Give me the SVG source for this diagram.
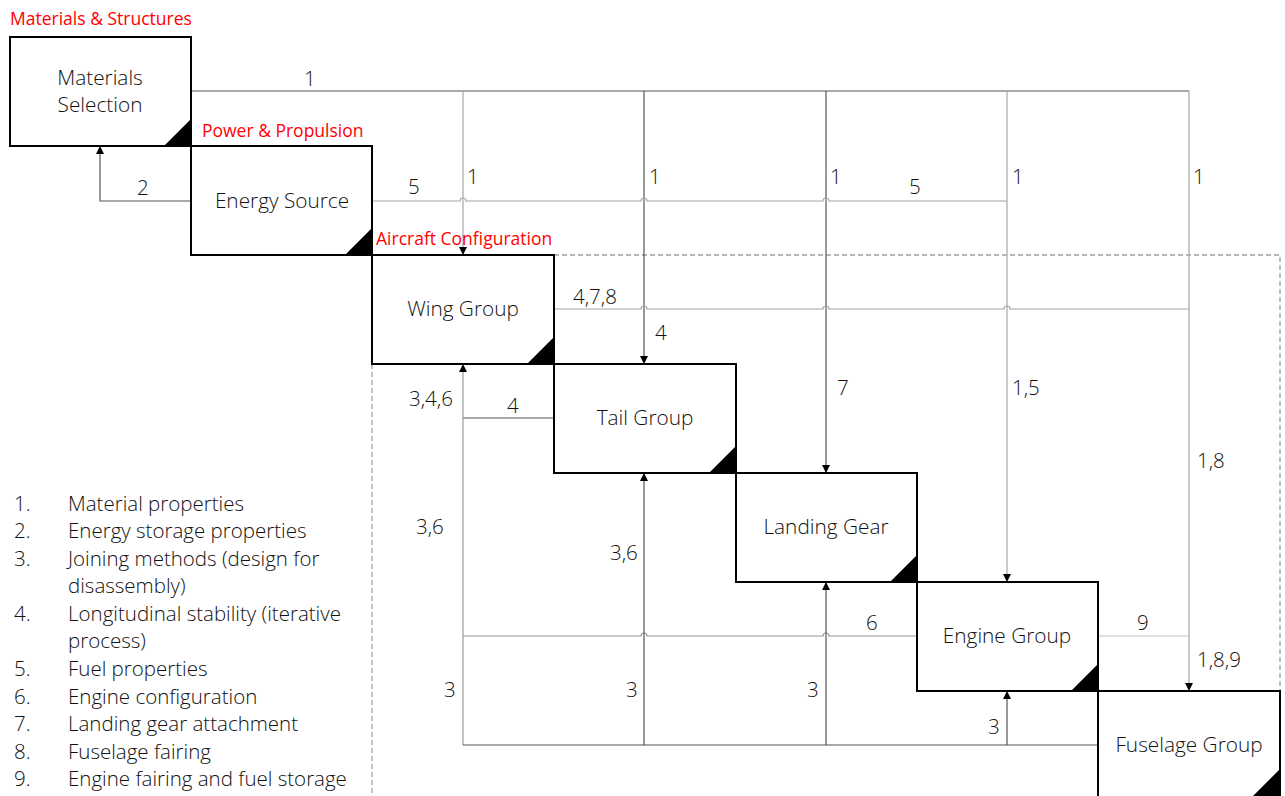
<svg xmlns="http://www.w3.org/2000/svg" width="1285" height="796" viewBox="0 0 1285 796">
<defs>
<marker id="arr" markerUnits="userSpaceOnUse" markerWidth="9" markerHeight="9" refX="8" refY="4" orient="auto">
<path d="M0,0 L8,4 L0,8 z" fill="#000"/>
</marker>
<style>
.box{fill:#fff;stroke:#000;stroke-width:2}
.tri{fill:#000}
.lbl{font-family:"Open Sans","Liberation Sans",sans-serif;font-weight:300;font-size:20.8px;fill:#111;text-anchor:middle}
.num{font-family:"Open Sans","Liberation Sans",sans-serif;font-weight:300;font-size:20.5px;fill:#111}
.red{font-family:"Open Sans","Liberation Sans",sans-serif;font-size:17.5px;fill:#ff0000}
.leg{font-family:"Open Sans","Liberation Sans",sans-serif;font-weight:300;font-size:20.5px;fill:#111}
.dk{fill:none;stroke:#555;stroke-width:1.2}
.lt{fill:none;stroke:#a6a6a6;stroke-width:1.2}
.md{fill:none;stroke:#999;stroke-width:1.2}
.vl{fill:none;stroke:#c4c4c4;stroke-width:1.2}
.dash{fill:none;stroke:#a0a0a0;stroke-width:1.3;stroke-dasharray:5,3}
</style>
</defs>
<rect width="1285" height="796" fill="#fff"/>

<g id="connectors">
<path class="dash" d="M554,255 H1280 V796"/>
<path class="dash" d="M372,364 V796"/>
<path class="dk" d="M191,91 H1189"/>
<path class="lt" d="M463,91 V255" marker-end="url(#arr)"/>
<path class="dk" d="M644,91 V364" marker-end="url(#arr)"/>
<path class="dk" d="M826,91 V473" marker-end="url(#arr)"/>
<path class="lt" d="M1007,91 V582" marker-end="url(#arr)"/>
<path class="lt" d="M1189,91 V691" marker-end="url(#arr)"/>
<path class="dk" d="M191,201 H100 V146" marker-end="url(#arr)"/>
<path class="lt" d="M372,201 H460 a3,3 0 0 1 6,0 H641 a3,3 0 0 1 6,0 H823 a3,3 0 0 1 6,0 H1007"/>
<path class="lt" d="M554,309 H641 a3,3 0 0 1 6,0 H823 a3,3 0 0 1 6,0 H1004 a3,3 0 0 1 6,0 H1189"/>
<path class="dk" d="M554,418 H463"/>
<path class="md" d="M463,745 V364" marker-end="url(#arr)"/>
<path class="md" d="M917,636 H829 a3,3 0 0 0 -6,0 H647 a3,3 0 0 0 -6,0 H463"/>
<path class="vl" d="M1098,636 H1189"/>
<path class="dk" d="M1098,745 H463"/>
<path class="dk" d="M644,745 V473" marker-end="url(#arr)"/>
<path class="dk" d="M826,745 V582" marker-end="url(#arr)"/>
<path class="dk" d="M1007,745 V691" marker-end="url(#arr)"/>
</g>

<g id="connector-labels">
<text class="num" x="304" y="86">1</text>
<text class="num" x="137" y="195">2</text>
<text class="num" x="408" y="194">5</text>
<text class="num" x="467" y="184">1</text>
<text class="num" x="649" y="184">1</text>
<text class="num" x="830" y="184">1</text>
<text class="num" x="909" y="194">5</text>
<text class="num" x="1012" y="184">1</text>
<text class="num" x="1193" y="184">1</text>
<text class="num" x="573" y="304">4,7,8</text>
<text class="num" x="655" y="340">4</text>
<text class="num" x="837" y="395">7</text>
<text class="num" x="1012" y="395">1,5</text>
<text class="num" x="1197" y="468">1,8</text>
<text class="num" x="409" y="406">3,4,6</text>
<text class="num" x="507" y="413">4</text>
<text class="num" x="416" y="534">3,6</text>
<text class="num" x="610" y="560">3,6</text>
<text class="num" x="866" y="630">6</text>
<text class="num" x="1137" y="630">9</text>
<text class="num" x="1197" y="667">1,8,9</text>
<text class="num" x="444" y="697">3</text>
<text class="num" x="626" y="697">3</text>
<text class="num" x="807" y="697">3</text>
<text class="num" x="988" y="734">3</text>
</g>

<g id="materials-selection">
<text class="red" x="10" y="25">Materials &amp; Structures</text>
<rect class="box" x="10" y="37" width="181" height="109"/>
<path class="tri" d="M164,146 L191,146 L191,119 z"/>
<text class="lbl" x="100" y="85">Materials</text>
<text class="lbl" x="100" y="112">Selection</text>
</g>

<g id="energy-source">
<text class="red" x="202" y="137">Power &amp; Propulsion</text>
<rect class="box" x="191" y="146" width="181" height="109"/>
<path class="tri" d="M345,255 L372,255 L372,228 z"/>
<text class="lbl" x="282" y="208">Energy Source</text>
</g>

<g id="wing-group">
<text class="red" x="376" y="245">Aircraft Configuration</text>
<rect class="box" x="372" y="255" width="182" height="109"/>
<path class="tri" d="M527,364 L554,364 L554,337 z"/>
<text class="lbl" x="463" y="316">Wing Group</text>
</g>

<g id="tail-group">
<rect class="box" x="554" y="364" width="182" height="109"/>
<path class="tri" d="M709,473 L736,473 L736,446 z"/>
<text class="lbl" x="645" y="425">Tail Group</text>
</g>

<g id="landing-gear">
<rect class="box" x="736" y="473" width="181" height="109"/>
<path class="tri" d="M890,582 L917,582 L917,555 z"/>
<text class="lbl" x="826" y="534">Landing Gear</text>
</g>

<g id="engine-group">
<rect class="box" x="917" y="582" width="181" height="109"/>
<path class="tri" d="M1071,691 L1098,691 L1098,664 z"/>
<text class="lbl" x="1007" y="643">Engine Group</text>
</g>

<g id="fuselage-group">
<rect class="box" x="1098" y="691" width="182" height="115"/>
<path class="tri" d="M1253,796 L1280,796 L1280,769 z"/>
<text class="lbl" x="1189" y="752">Fuselage Group</text>
</g>

<g id="legend">
<text class="leg" x="14" y="511">1.</text><text class="leg" x="68" y="511">Material properties</text>
<text class="leg" x="14" y="538">2.</text><text class="leg" x="68" y="538">Energy storage properties</text>
<text class="leg" x="14" y="566">3.</text><text class="leg" x="68" y="566">Joining methods (design for</text>
<text class="leg" x="68" y="593">disassembly)</text>
<text class="leg" x="14" y="621">4.</text><text class="leg" x="68" y="621">Longitudinal stability (iterative</text>
<text class="leg" x="68" y="648">process)</text>
<text class="leg" x="14" y="676">5.</text><text class="leg" x="68" y="676">Fuel properties</text>
<text class="leg" x="14" y="704">6.</text><text class="leg" x="68" y="704">Engine configuration</text>
<text class="leg" x="14" y="731">7.</text><text class="leg" x="68" y="731">Landing gear attachment</text>
<text class="leg" x="14" y="759">8.</text><text class="leg" x="68" y="759">Fuselage fairing</text>
<text class="leg" x="14" y="786">9.</text><text class="leg" x="68" y="786">Engine fairing and fuel storage</text>
</g>
</svg>
